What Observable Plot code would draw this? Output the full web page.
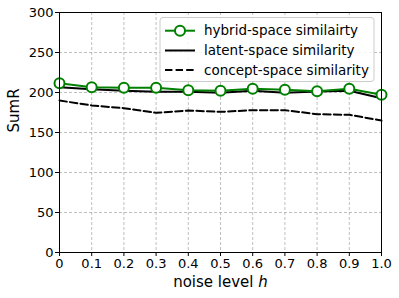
<!DOCTYPE html>
<html><head><meta charset="utf-8">
<script src="https://cdn.jsdelivr.net/npm/d3@7"></script>
<script src="https://cdn.jsdelivr.net/npm/@observablehq/plot@0.6"></script>
<style>body{margin:0;background:#fff;} svg{font-family:"DejaVu Sans",sans-serif;}</style>
</head><body><div id="chart"></div>
<script>
const noise = [0, 0.1, 0.2, 0.3, 0.4, 0.5, 0.6, 0.7, 0.8, 0.9, 1.0];
const hybrid = [211.6, 206.6, 205.8, 205.8, 202.9, 202.1, 204.6, 203.3, 201.6, 204.6, 197.1];
const latent = [206.6, 204.1, 202.1, 200.8, 200.8, 199.6, 202.1, 199.6, 201.3, 202.1, 192.9];
const concept = [190, 183.8, 180.4, 174.6, 177.5, 175.8, 177.9, 177.9, 172.9, 172.1, 165];
const xTicks = [0, 0.1, 0.2, 0.3, 0.4, 0.5, 0.6, 0.7, 0.8, 0.9, 1.0];
const xTickLabels = ["0", "0.1", "0.2", "0.3", "0.4", "0.5", "0.6", "0.7", "0.8", "0.9", "1.0"];
const yTicks = [0, 50, 100, 150, 200, 250, 300];
const seriesNames = ["hybrid-space similairty", "latent-space similarity", "concept-space similarity"];

const rows = (vals) => noise.map((x, i) => ({x, y: vals[i]}));
const H = rows(hybrid), L = rows(latent), C = rows(concept);

const plot = Plot.plot({
  width: 399, height: 298,
  marginLeft: 59, marginRight: 18, marginTop: 12, marginBottom: 46,
  style: {fontFamily: "DejaVu Sans, sans-serif", background: "#fff"},
  x: {domain: [0, 1]},
  y: {domain: [0, 300]},
  marks: [
    Plot.gridX(xTicks, {stroke: "#b0b0b0", strokeOpacity: 1, strokeDasharray: "3,2", strokeWidth: 0.8}),
    Plot.gridY(yTicks, {stroke: "#b0b0b0", strokeOpacity: 1, strokeDasharray: "3,2", strokeWidth: 0.8}),
    Plot.axisX(xTicks, {tickSize: 4, fontSize: 13, label: null, tickPadding: 2, tickFormat: (d) => xTickLabels[xTicks.indexOf(d)]}),
    Plot.axisY(yTicks, {tickSize: 4, fontSize: 13, label: null, tickPadding: 2}),
    Plot.line(C, {x: "x", y: "y", stroke: "black", strokeWidth: 2, strokeDasharray: "7.4,3.2"}),
    Plot.line(L, {x: "x", y: "y", stroke: "black", strokeWidth: 2}),
    Plot.line(H, {x: "x", y: "y", stroke: "green", strokeWidth: 2}),
    Plot.dot(H, {x: "x", y: "y", r: 5, fill: "white", stroke: "green", strokeWidth: 2}),
    Plot.frame({stroke: "black", strokeWidth: 1}),
    Plot.text(["SumR"], {frameAnchor: "left", rotate: -90, dx: -45, fontSize: 15, fill: "black"}),
    Plot.text(["noise level h"], {frameAnchor: "bottom", dy: 34, fontSize: 15, fill: "black", className: "xlabel"})
  ]
});
document.getElementById("chart").appendChild(plot);

// italic "h" in x label
const svg = d3.select(plot);
svg.selectAll(".xlabel text").each(function() {
  const t = d3.select(this);
  t.text("noise level ");
  t.append("tspan").attr("font-style", "italic").text("h");
});

// legend
const lg = svg.append("g").style("font-family", "DejaVu Sans, sans-serif").style("font-size", "13.5px").attr("text-anchor", "start");
lg.append("rect").attr("x", 160).attr("y", 17.5).attr("width", 214).attr("height", 64)
  .attr("rx", 3).attr("fill", "white").attr("fill-opacity", 0.85).attr("stroke", "#cccccc");
const ys = [30.7, 50.5, 70];
lg.append("line").attr("x1", 165).attr("x2", 195).attr("y1", ys[0]).attr("y2", ys[0]).attr("stroke", "green").attr("stroke-width", 2);
lg.append("circle").attr("cx", 180).attr("cy", ys[0]).attr("r", 5).attr("fill", "white").attr("stroke", "green").attr("stroke-width", 2);
lg.append("line").attr("x1", 165).attr("x2", 195).attr("y1", ys[1]).attr("y2", ys[1]).attr("stroke", "black").attr("stroke-width", 2);
lg.append("line").attr("x1", 165).attr("x2", 195).attr("y1", ys[2]).attr("y2", ys[2]).attr("stroke", "black").attr("stroke-width", 2).attr("stroke-dasharray", "7.4,3.2");
seriesNames.forEach((n, i) => {
  lg.append("text").attr("x", 204).attr("y", ys[i]).attr("dy", "0.35em").attr("fill", "black").attr("text-anchor", "start").text(n);
});
</script></body></html>
